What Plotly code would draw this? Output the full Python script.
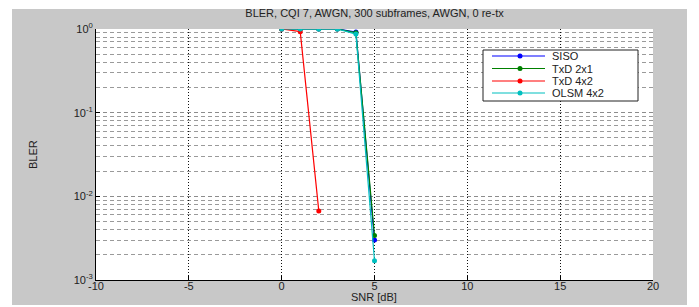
import plotly.graph_objects as go

snr = [0, 1, 2, 3, 4, 5]
siso = [1.0, 1.0, 1.0, 1.0, 0.92, 0.0030]
txd21 = [1.0, 1.0, 1.0, 1.0, 0.90, 0.0034]
snr_txd42 = [0, 1, 2]
txd42 = [1.0, 0.93, 0.0067]
olsm42 = [1.0, 1.0, 1.0, 1.0, 0.87, 0.0017]

x_ticks = [-10, -5, 0, 5, 10, 15, 20]
x_ticktext = ["-10", "-5", "0", "5", "10", "15", "20"]
y_ticks = [1e-3, 1e-2, 1e-1, 1e0]
y_ticktext = ["10<sup>-3</sup>", "10<sup>-2</sup>", "10<sup>-1</sup>", "10<sup>0</sup>"]

title = "BLER, CQI 7, AWGN, 300 subframes, AWGN, 0 re-tx"
x_title = "SNR [dB]"
y_title = "BLER"

FONT = "Liberation Sans, Arial, sans-serif"
TXT = "#222222"
GRAY = "#c8c8c8"
W, H = 699, 307
L, R, T, B = 96, 46, 29, 27
pw = W - L - R
ph = H - T - B


def px(p):
    return (p - L) / pw


def py(p):
    return (H - B - p) / ph


fig = go.Figure()
series = [
    ("SISO", snr, siso, "#0000ff"),
    ("TxD 2x1", snr, txd21, "#008000"),
    ("TxD 4x2", snr_txd42, txd42, "#ff0000"),
    ("OLSM 4x2", snr, olsm42, "#00bfbf"),
]
for name, xs, ys, c in series:
    fig.add_trace(go.Scatter(x=xs, y=ys, name=name, mode="lines+markers",
                             line=dict(color=c, width=1.2),
                             marker=dict(color=c, size=5, symbol="circle"),
                             showlegend=False))

minor_vals = [m * 10.0 ** e for e in range(-3, 0) for m in range(2, 10)]

white_edge = dict(fillcolor="white", line=dict(width=0), layer="above",
                  type="rect", xref="paper", yref="paper")
shapes = [
    dict(white_edge, x0=px(0), x1=px(12), y0=py(H), y1=py(0)),
    dict(white_edge, x0=px(687), x1=px(W), y0=py(H), y1=py(0)),
    dict(white_edge, x0=px(0), x1=px(W), y0=py(9), y1=py(0)),
    dict(white_edge, x0=px(0), x1=px(W), y0=py(H), y1=py(305)),
    # legend box
    dict(type="rect", xref="paper", yref="paper",
         x0=px(483), x1=px(638), y0=py(101), y1=py(50),
         fillcolor="white", line=dict(color="#222222", width=1), layer="above"),
]
annotations = [
    dict(text=y_title, xref="paper", yref="paper", x=px(33), y=py(155),
         showarrow=False, textangle=-90, xanchor="center", yanchor="middle",
         font=dict(size=11, family=FONT, color=TXT)),
    dict(text=x_title, xref="paper", yref="paper", x=px(374), y=py(297),
         showarrow=False, xanchor="center", yanchor="middle",
         font=dict(size=11, family=FONT, color=TXT)),
]
leg_y = [56, 68.5, 81, 93]
for (name, xs, ys, c), yy in zip(series, leg_y):
    shapes.append(dict(type="line", xref="paper", yref="paper",
                       x0=px(492), x1=px(545), y0=py(yy), y1=py(yy),
                       line=dict(color=c, width=1.2), layer="above"))
    shapes.append(dict(type="circle", xref="paper", yref="paper",
                       x0=px(517.5), x1=px(522.5), y0=py(yy + 2.5), y1=py(yy - 2.5),
                       fillcolor=c, line=dict(color=c, width=0), layer="above"))
    annotations.append(dict(text=name, xref="paper", yref="paper", x=px(550), y=py(yy),
                            showarrow=False, xanchor="left", yanchor="middle",
                            font=dict(size=11, family=FONT, color=TXT)))

fig.update_layout(
    width=W, height=H,
    margin=dict(l=L, r=R, t=T, b=B, autoexpand=False),
    paper_bgcolor=GRAY, plot_bgcolor="white",
    font=dict(family=FONT, size=11, color=TXT),
    title=dict(text=title, x=(L + pw / 2) / W, xanchor="center",
               y=1 - 13 / H, yanchor="middle", yref="container",
               font=dict(size=11, family=FONT, color=TXT)),
    showlegend=False,
    shapes=shapes,
    annotations=annotations,
    xaxis=dict(range=[-10, 20], tickmode="array", tickvals=x_ticks, ticktext=x_ticktext,
               ticks="inside", ticklen=4, tickcolor="black",
               showline=True, linecolor="black", linewidth=1, mirror=False,
               showgrid=True, gridcolor="#111111", griddash="1px,2px", gridwidth=1,
               zeroline=False, automargin=False, ticklabelstandoff=-4,
               tickfont=dict(size=11, color=TXT)),
    yaxis=dict(type="log", range=[-3, 0], tickmode="array", tickvals=y_ticks,
               ticktext=y_ticktext,
               ticks="inside", ticklen=4, tickcolor="black",
               showline=True, linecolor="black", linewidth=1,
               showgrid=True, gridcolor="#8c8c8c", griddash="4px,3px", gridwidth=1,
               zeroline=False, automargin=False,
               minor=dict(tickmode="array", tickvals=minor_vals, showgrid=True,
                          gridcolor="#9a9a9a", griddash="4px,3px", gridwidth=1,
                          ticks=""),
               tickfont=dict(size=11, color=TXT)),
)

fig.write_html("out.html", config={"displayModeBar": False},
               post_script="document.body.style.margin='0';document.body.style.padding='0';")
